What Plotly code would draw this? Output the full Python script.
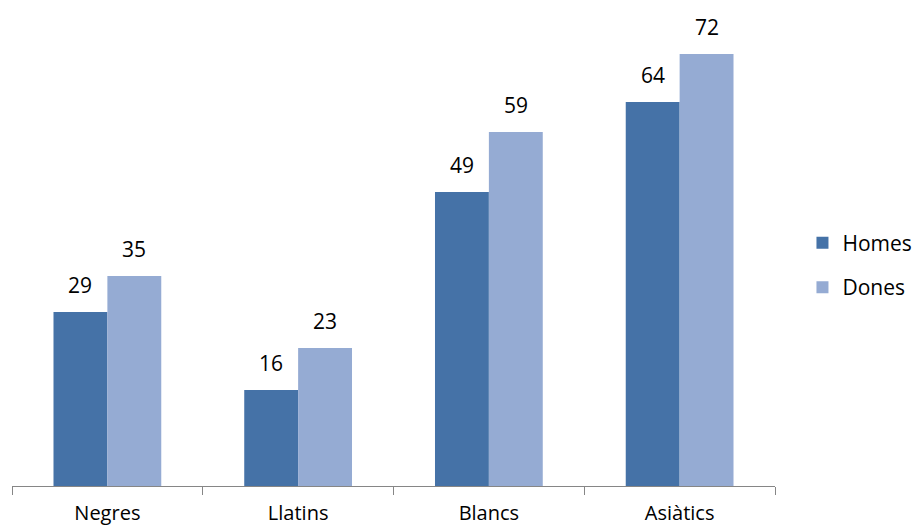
import plotly.graph_objects as go

categories = ["Negres", "Llatins", "Blancs", "Asiàtics"]
homes = [29, 16, 49, 64]
dones = [35, 23, 59, 72]

c_h = "#4572A7"
c_d = "#95ABD3"
font = "Open Sans, Liberation Sans, sans-serif"
fs = 21

fig = go.Figure()
fig.add_trace(go.Bar(x=categories, y=homes, name="Homes", marker=dict(color=c_h, line=dict(width=0)),
                     legendgroup="h"))
fig.add_trace(go.Bar(x=categories, y=dones, name="Dones", marker=dict(color=c_d, line=dict(width=0)),
                     legendgroup="d"))

ann = []
for cat, vh, vd in zip(categories, homes, dones):
    ann.append(dict(x=cat, y=vh, text=str(vh), xref="x", yref="y", showarrow=False,
                    xshift=-27, yshift=27, yanchor="middle", font=dict(size=fs, color="#000", family=font)))
    ann.append(dict(x=cat, y=vd, text=str(vd), xref="x", yref="y", showarrow=False,
                    xshift=27, yshift=27, yanchor="middle", font=dict(size=fs, color="#000", family=font)))

fig.update_layout(
    width=917, height=530,
    margin=dict(l=12, r=142, t=6, b=44, autoexpand=False),
    paper_bgcolor="white", plot_bgcolor="white",
    barmode="group", bargap=0.435, bargroupgap=0,
    font=dict(family=font, size=fs, color="#000"),
    annotations=ann,
    legend=dict(x=1.036, y=0.46, xanchor="left", yanchor="middle",
                traceorder="grouped", tracegroupgap=14,
                font=dict(size=fs, family=font), itemwidth=30),
    xaxis=dict(showline=True, linecolor="#868686", linewidth=1,
               ticks="outside", ticklen=8, tickcolor="#868686", tickson="boundaries",
               ticklabelstandoff=9,
               showgrid=False, tickfont=dict(size=20, family=font)),
    yaxis=dict(range=[0, 80], visible=False, showgrid=False, zeroline=False),
)

fig.write_html("out.html")
